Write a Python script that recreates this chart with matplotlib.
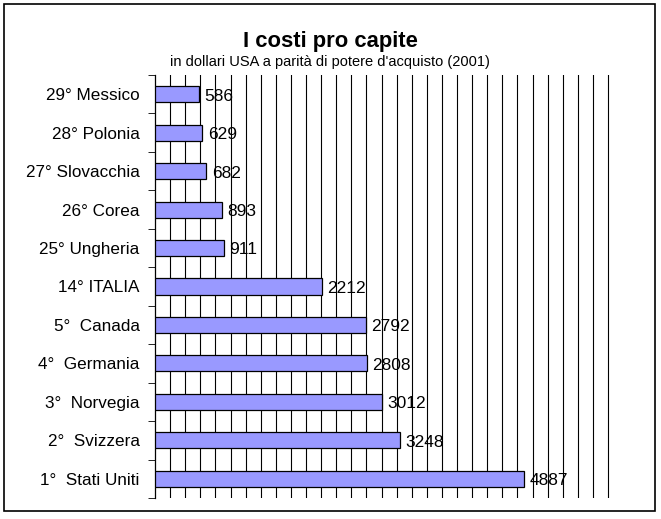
import matplotlib.pyplot as plt
from matplotlib.patches import Rectangle

plt.rcParams['font.family'] = ['Liberation Sans', 'DejaVu Sans']

paesi = ["29° Messico", "28° Polonia", "27° Slovacchia", "26° Corea",
         "25° Ungheria", "14° ITALIA", "5°  Canada", "4°  Germania",
         "3°  Norvegia", "2°  Svizzera", "1°  Stati Uniti"]
costi = [586, 629, 682, 893, 911, 2212, 2792, 2808, 3012, 3248, 4887]

fig = plt.figure(figsize=(6.61, 5.19), dpi=100)
ax = fig.add_axes([155 / 661, 1 - 498 / 519, 455 / 661, 423 / 519])

# cornice esterna
fig.patches.append(Rectangle((4 / 661, 1 - 511 / 519), 651 / 661, 507 / 519,
                             transform=fig.transFigure, fill=False,
                             edgecolor="black", linewidth=1.2))

y = list(range(len(paesi)))
ax.barh(y, costi, height=0.42, color="#9999FF", edgecolor="black",
        linewidth=0.9, zorder=3)
for yi, v in zip(y, costi):
    ax.text(v + 70, yi + 0.05, str(v), va="center", ha="left", fontsize=12.5,
            zorder=4)

ax.set_xlim(0, 6026)
ax.set_ylim(len(paesi) - 0.5, -0.5)
ax.set_xticks(range(200, 6001, 200))
ax.xaxis.grid(True, color="black", linewidth=0.8, zorder=0)
ax.tick_params(axis="x", length=0, labelbottom=False)

ax.set_yticks(y)
ax.set_yticklabels(paesi, fontsize=12.3)
ax.set_yticks([i + 0.5 for i in range(-1, len(paesi))], minor=True)
ax.tick_params(axis="y", which="major", length=0, pad=11)
ax.tick_params(axis="y", which="minor", length=5, direction="out")

for s in ["top", "right", "bottom"]:
    ax.spines[s].set_visible(False)
ax.spines["left"].set_linewidth(0.9)

fig.text(330 / 661, 1 - 41 / 519, "I costi pro capite", ha="center",
         va="center", fontsize=15.8, fontweight="bold")
fig.text(330 / 661, 1 - 62 / 519,
         "in dollari USA a parità di potere d'acquisto (2001)",
         ha="center", va="center", fontsize=10.5)

fig.savefig("out.png", dpi=100)
